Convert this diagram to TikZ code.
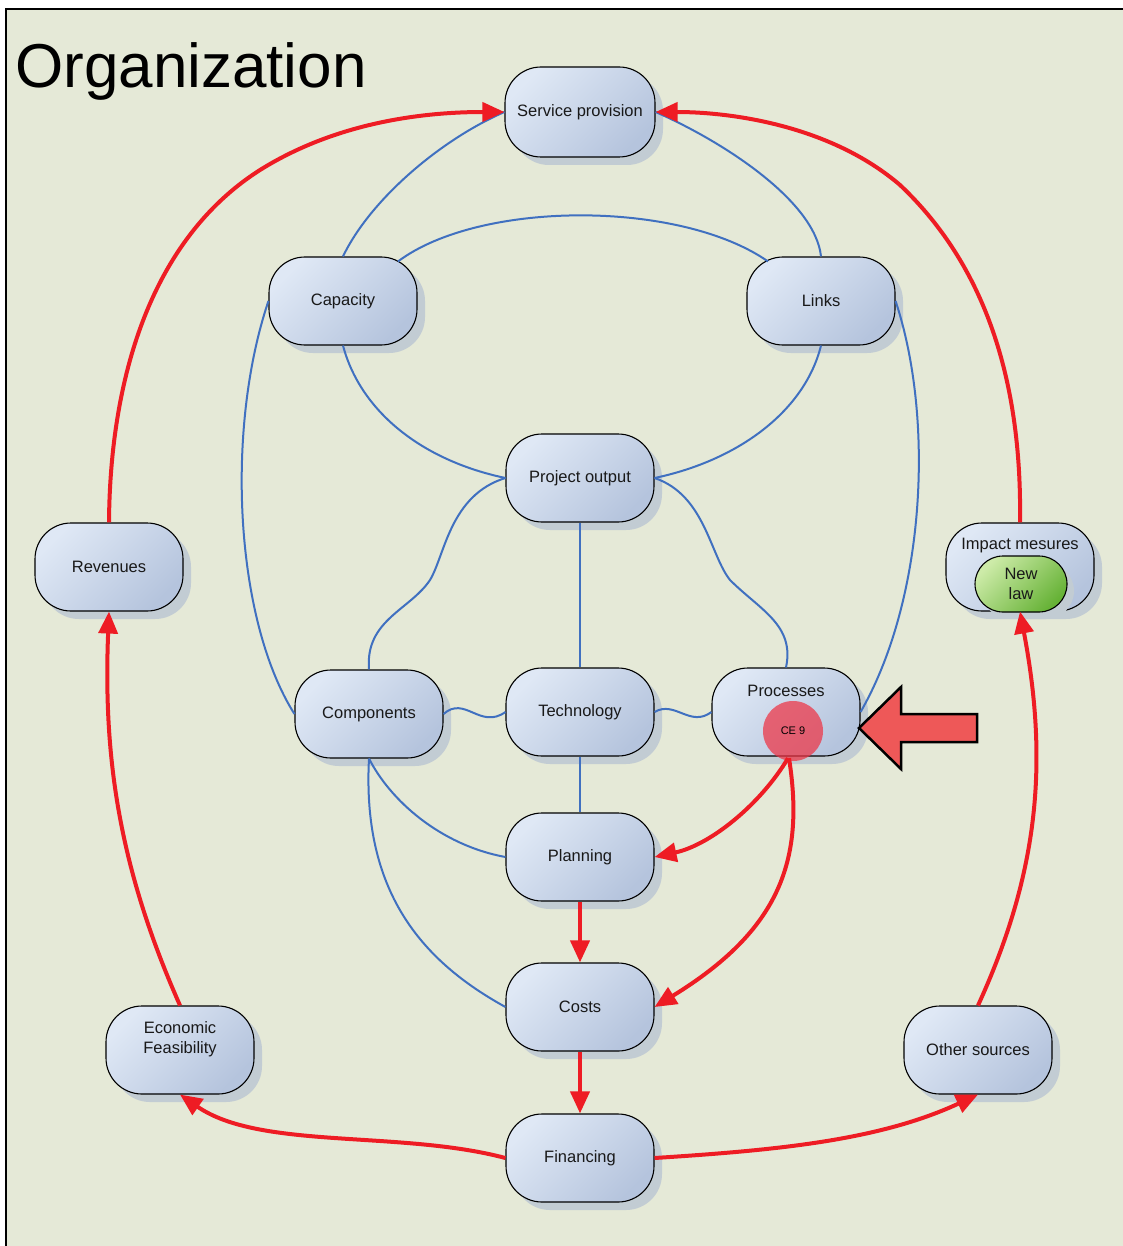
\documentclass[tikz,border=0pt]{standalone}
\usepackage{fontspec}
\setmainfont{Liberation Sans}
\usetikzlibrary{arrows.meta,calc,shadows}
\definecolor{paper}{HTML}{E5E9D7}
\definecolor{boxlight}{HTML}{DFE8F5}
\definecolor{boxdark}{HTML}{B5C4DD}
\definecolor{shadowc}{HTML}{C2CCD3}
\definecolor{linkblue}{HTML}{4070C0}
\definecolor{flowred}{HTML}{EE1C24}
\definecolor{cered}{HTML}{EE3344}
\definecolor{arrowred}{HTML}{EE5858}
\definecolor{greenlight}{HTML}{CDEBA8}
\definecolor{greendark}{HTML}{66B236}
\begin{document}
\begin{tikzpicture}[x=1pt,y=-1pt,
  txt/.style={font=\fontsize{16.5}{20}\selectfont, text=black!90, align=center, inner sep=0pt},
  box/.style={txt, draw=black, line width=1.1pt, rounded corners=36pt,
    minimum width=148pt, minimum height=88pt,
    top color=boxlight, bottom color=boxdark, shading angle=45,
    drop shadow={shadow xshift=8pt, shadow yshift=-8pt, fill=shadowc, opacity=1}},
  lawbox/.style={txt, draw=black, line width=1.1pt, rounded corners=28pt,
    minimum width=92pt, minimum height=56pt,
    top color=greenlight, bottom color=greendark, shading angle=45,
    drop shadow={shadow xshift=7pt, shadow yshift=-7pt, fill=shadowc, opacity=1}},
  link/.style={draw=linkblue, line width=2pt},
  flow/.style={draw=flowred, line width=4pt, -{Triangle[length=22pt,width=19pt]}}]

% page and frame
\useasboundingbox (0,0) rectangle (1123,1246);
\fill[white] (0,0) rectangle (1123,1246);
\fill[paper] (6,9) rectangle (1130,1250);
\draw[line width=2.5pt] (6,1250) -- (6,9) -- (1130,9);

\node[anchor=base west, font=\fontsize{62}{70}\selectfont, inner sep=0pt] (title) at (15,88) {Organization};

% boxes
\node[box, minimum width=150pt, minimum height=90pt] (sp) at (580,112) {Service provision};
\node[box] (cap) at (343,301) {Capacity};
\node[box] (links) at (821,301) {Links};
\node[box] (po) at (580,478) {Project output};
\node[box] (rev) at (109,567) {Revenues};
\node[box] (imp) at (1020,567) {};
\node[txt] (implabel) at (1020,546) {Impact mesures};
\node[lawbox] (law) at (1021,584) {New\\law};
\node[box] (comp) at (369,714) {Components};
\node[box] (tech) at (580,712) {Technology};
\node[box] (proc) at (786,712) {};
\node[txt] (proclabel) at (786,691) {Processes};
\node[circle, minimum size=60pt, inner sep=0pt, fill=cered, fill opacity=0.72, text opacity=1,
  font=\fontsize{11}{13}\selectfont] (ce) at (793,731) {CE 9};
\node[box] (plan) at (580,857) {Planning};
\node[box] (costs) at (580,1007) {Costs};
\node[box] (eco) at (180,1050) {};
\node[txt] (ecolabel) at (180,1039) {Economic\\Feasibility};
\node[box] (other) at (978,1050) {Other sources};
\node[box] (fin) at (580,1158) {Financing};

% blue relations
\draw[link] (sp.west) .. controls (440,140) and (370,200) .. (cap.north);
\draw[link] (sp.east) .. controls (720,140) and (815,200) .. (links.north);
\draw[link] ($(cap.north)+(55,5)$) .. controls (480,200) and (680,200) .. ($(links.north)+(-53,5)$);
\draw[link] (cap.south) .. controls (360,410) and (420,460) .. (po.west);
\draw[link] (links.south) .. controls (805,410) and (740,460) .. (po.east);
\draw[link] (cap.west) .. controls (225,430) and (235,620) .. (comp.west);
\draw[link] (links.east) .. controls (935,420) and (925,600) .. (proc.east);
\draw[link] (po.west) .. controls (450,495) and (445,555) .. (430,580)
  .. controls (410,610) and (365,620) .. (comp.north);
\draw[link] (po.east) .. controls (705,495) and (710,555) .. (730,580)
  .. controls (760,610) and (795,625) .. (proc.north);
\draw[link] (po.south) -- (tech.north);
\draw[link] (comp.east) .. controls (465,695) and (480,730) .. (tech.west);
\draw[link] (tech.east) .. controls (675,700) and (690,728) .. (proc.west);
\draw[link] (tech.south) -- (plan.north);
\draw[link] (comp.south) .. controls (390,800) and (440,845) .. (plan.west);
\draw[link] (comp.south) .. controls (362,890) and (420,960) .. (costs.west);

% red flows
\draw[flow] (rev.north) .. controls (110,380) and (150,240) .. (260,170)
  .. controls (340,120) and (430,112) .. (sp.west);
\draw[flow] (imp.north) .. controls (1022,390) and (990,270) .. (900,185)
  .. controls (830,125) and (730,112) .. (sp.east);
\draw[flow] (eco.north) .. controls (120,870) and (103,760) .. (rev.south);
\draw[flow] (other.north) .. controls (1040,870) and (1048,760) .. (imp.south);
\draw[flow] (fin.west) .. controls (400,1130) and (260,1150) .. (eco.south);
\draw[flow] (fin.east) .. controls (780,1150) and (880,1140) .. (other.south);
\draw[flow] (plan.south) -- (costs.north);
\draw[flow] (costs.south) -- (fin.north);
\draw[flow] ($(ce.south)+(-5,-3)$) .. controls (760,805) and (710,845) .. (plan.east);
\draw[flow] ($(ce.south)+(-4,-3)$) .. controls (805,860) and (780,930) .. (costs.east);

% pointer arrow at Processes
\draw[line width=2.5pt, line join=miter, fill=arrowred]
  (859,728) -- (901,687) -- (901,714) -- (977,714) -- (977,742) -- (901,742) -- (901,769) -- cycle;
\end{tikzpicture}
\end{document}
